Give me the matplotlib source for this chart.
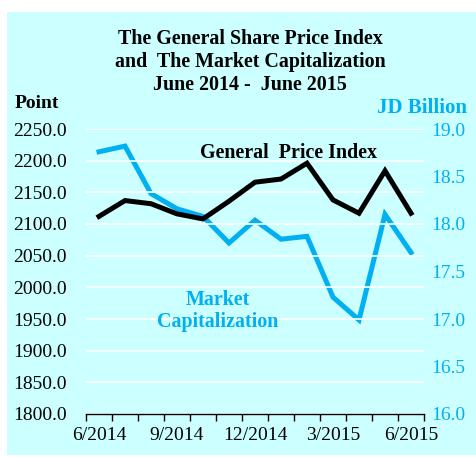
import matplotlib
matplotlib.use('Agg')
import matplotlib.pyplot as plt
from matplotlib.patches import Rectangle

# monthly data, June 2014 - June 2015
months = ['6/2014', '7/2014', '8/2014', '9/2014', '10/2014', '11/2014', '12/2014',
          '1/2015', '2/2015', '3/2015', '4/2015', '5/2015', '6/2015']
price_index = [2112, 2137, 2132, 2116, 2108, 2136, 2166, 2171, 2196, 2138, 2117, 2184, 2117]
market_cap = [18.76, 18.82, 18.32, 18.16, 18.08, 17.80, 18.04, 17.84, 17.87, 17.23, 16.99, 18.10, 17.70]
tick_months = ['6/2014', '9/2014', '12/2014', '3/2015', '6/2015']

BLUE = '#00b0f0'
BG = '#ccffff'
plt.rcParams['font.family'] = ['Liberation Serif', 'DejaVu Serif']

fig = plt.figure(figsize=(4.76, 4.57), dpi=100)
fig.patch.set_facecolor('white')
W, H = 476, 457
fig.patches.append(Rectangle((7 / W, 2 / H), 1 - 7 / W, (H - 14) / H,
                             transform=fig.transFigure, facecolor=BG,
                             edgecolor='none', zorder=-10))

ax = fig.add_axes([86 / W, (H - 414) / H, (424 - 86) / W, (414 - 129) / H])
ax.set_facecolor('none')
x = list(range(len(months)))
ax.plot(x, price_index, color='black', lw=3.6, solid_joinstyle='miter', zorder=3)
ax.set_xlim(-0.5, len(months) - 0.5)
ax.set_ylim(1800, 2250)
ax.set_yticks(range(1800, 2251, 50))
ax.set_yticklabels([f'{v:.1f}' for v in range(1800, 2251, 50)])
ax.yaxis.grid(True, color='white', lw=1.2)
ax.set_axisbelow(True)
ax.set_xticks([i - 0.5 for i in range(len(months) + 1)], minor=False)
ax.set_xticklabels([])
ax.set_xticks([months.index(m) for m in tick_months], minor=True)
ax.set_xticklabels(tick_months, minor=True)
ax.tick_params(axis='x', which='major', direction='out', length=5, width=1)
ax.tick_params(axis='x', which='minor', length=0, pad=9, labelsize=14)
ax.tick_params(axis='y', length=0, pad=14, labelsize=14)
for s in ['top', 'left', 'right']:
    ax.spines[s].set_visible(False)
ax.spines['bottom'].set_linewidth(1)

ax2 = ax.twinx()
ax2.plot(x, market_cap, color=BLUE, lw=3.6, solid_joinstyle='miter', zorder=2)
ax2.set_ylim(16.0, 19.0)
ax2.set_yticks([16.0, 16.5, 17.0, 17.5, 18.0, 18.5, 19.0])
ax2.set_yticklabels([f'{v:.1f}' for v in [16.0, 16.5, 17.0, 17.5, 18.0, 18.5, 19.0]])
ax2.tick_params(axis='y', length=0, pad=5, labelsize=14, labelcolor=BLUE)
for s in ax2.spines.values():
    s.set_visible(False)
ax.set_zorder(ax2.get_zorder() + 1)

fig.text(250 / W, 1 - 62 / H, 'The General Share Price Index\nand  The Market Capitalization\nJune 2014 -  June 2015',
         ha='center', va='center', fontsize=14.4, fontweight='bold', linespacing=1.2)
fig.text(15 / W, 1 - 104 / H, 'Point', ha='left', va='center', fontsize=14, fontweight='bold')
fig.text(467 / W, 1 - 108 / H, 'JD Billion', ha='right', va='center', fontsize=15,
         fontweight='bold', color=BLUE)
fig.text(289 / W, 1 - 153 / H, 'General  Price Index', ha='center', va='center',
         fontsize=14.4, fontweight='bold')
fig.text(218 / W, 1 - 311 / H, 'Market\nCapitalization', ha='center', va='center',
         fontsize=14.4, fontweight='bold', color=BLUE, linespacing=1.15)

fig.savefig('out.png', dpi=100, facecolor='white')
